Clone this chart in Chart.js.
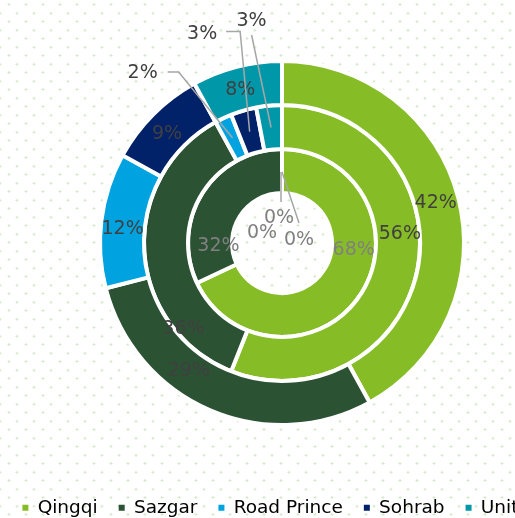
<!DOCTYPE html>
<html>
<head>
<meta charset="utf-8">
<script src="https://cdn.jsdelivr.net/npm/chart.js@4.4.0/dist/chart.umd.min.js"></script>
<style>
  html, body { margin: 0; padding: 0; background: #fff; }
  #wrap {
    width: 515px; height: 518px; overflow: hidden; position: relative;
    background-color: #fff;
    background-image:
      radial-gradient(circle, #d4e9c9 1px, transparent 1.4px),
      radial-gradient(circle, #d4e9c9 1px, transparent 1.4px);
    background-size: 17px 17px;
    background-position: -8.5px 4.8px, 0.5px -4px;
  }
  /* canvas is wider than the window so the legend row can run off the right edge */
  canvas { position: absolute; left: -18px; top: 0; }
</style>
</head>
<body>
<div id="wrap"><canvas id="shareChart" width="600" height="527"></canvas></div>
<script>
// market share by brand, three rings (outer -> inner)
const brands = ['Qingqi', 'Sazgar', 'Road Prince', 'Sohrab', 'United'];
const outerShare = [42, 29, 12, 9, 8];
const middleShare = [56, 36, 2, 3, 3];
const innerShare = [68, 32, 0, 0, 0];
const brandColors = ['#86BC25', '#2C5234', '#00A3E0', '#012169', '#0097A9'];

// where each label sits inside its arc (fraction of the sweep / of the ring width)
const labelAlong = [
    [0.50, 0.62, 0.45, 0.45, 0.47],
    [0.425, 0.21, 0.5, 0.5, 0.5],
    [0.39, 0.195, 0.5, 0.5, 0.5]
];
const labelRadial = [
    [0.47, 0.47, 0.5, 0.46, 0.47],
    [0.55, 0.84, 0.5, 0.5, 0.5],
    [0.5, 0.31, 0.5, 0.5, 0.5]
];
const labelColors = ['#404040', '#404040', '#808080'];

// small slices get a leader line, offsets from the arc's centre point
const callouts = {
    '1-2': { path: [[0, 0], [-54, -66], [-65, -66]], text: [-90, -64.5] },
    '1-3': { path: [[0, 0], [-9.5, -100], [-23.5, -100]], text: [-47.5, -98] },
    '1-4': { path: [[0, 0], [-19.5, -92.5]], text: [-19.5, -106] },
    '2-2': { path: [], text: [-20, 62] },
    '2-3': { path: [[-1, 1], [-1, 31]], text: [-3, 47] },
    '2-4': { path: [[0, 1], [17, 52]], text: [17, 69] }
};

const ringLabels = {
    id: 'ringLabels',
    afterDatasetsDraw(chart) {
        const ctx = chart.ctx;
        ctx.save();
        ctx.font = '19px "DejaVu Sans"';
        ctx.textAlign = 'center';
        ctx.textBaseline = 'middle';
        chart.data.datasets.forEach((ds, d) => {
            const meta = chart.getDatasetMeta(d);
            meta.data.forEach((arc, i) => {
                const value = ds.data[i];
                const c = callouts[d + '-' + i];
                ctx.fillStyle = labelColors[d];
                if (c) {
                    const p = arc.getCenterPoint();
                    if (c.path.length) {
                        ctx.strokeStyle = '#A6A6A6';
                        ctx.lineWidth = 1.5;
                        ctx.beginPath();
                        c.path.forEach((pt, k) => {
                            if (k === 0) ctx.moveTo(p.x + pt[0], p.y + pt[1]);
                            else ctx.lineTo(p.x + pt[0], p.y + pt[1]);
                        });
                        ctx.stroke();
                    }
                    ctx.fillText(value + '%', p.x + c.text[0], p.y + c.text[1]);
                    return;
                }
                if (!value) return;
                const a = arc.startAngle + (arc.endAngle - arc.startAngle) * labelAlong[d][i];
                const r = arc.innerRadius + (arc.outerRadius - arc.innerRadius) * labelRadial[d][i];
                ctx.fillText(value + '%', arc.x + r * Math.cos(a), arc.y + r * Math.sin(a));
            });
        });
        ctx.restore();
    }
};

const ringStyle = { backgroundColor: brandColors, borderColor: '#FFFFFF', borderWidth: 4 };

new Chart(document.getElementById('shareChart').getContext('2d'), {
    type: 'doughnut',
    data: {
        labels: brands,
        datasets: [
            Object.assign({ label: 'Outer', data: outerShare }, ringStyle),
            Object.assign({ label: 'Middle', data: middleShare }, ringStyle),
            Object.assign({ label: 'Inner', data: innerShare }, ringStyle)
        ]
    },
    options: {
        responsive: false,
        animation: false,
        events: [],
        radius: 182,
        cutout: '27.47%',
        layout: { padding: { top: 8.5 } },
        plugins: {
            tooltip: { enabled: false },
            legend: {
                position: 'bottom',
                labels: {
                    boxWidth: 6,
                    boxHeight: 6,
                    padding: 21,
                    color: '#595959',
                    font: { family: 'DejaVu Sans', size: 18.5 },
                    generateLabels: (chart) => brands.map((b, i) => ({
                        text: b, fillStyle: brandColors[i], strokeStyle: brandColors[i],
                        lineWidth: 0, hidden: false, index: i
                    }))
                }
            }
        }
    },
    plugins: [ringLabels]
});
</script>
</body>
</html>
